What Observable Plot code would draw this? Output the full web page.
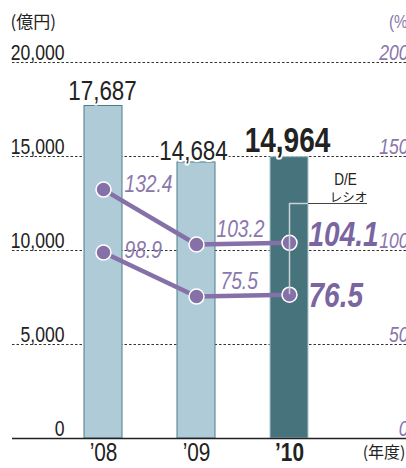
<!DOCTYPE html>
<html><head><meta charset="utf-8">
<script src="https://cdn.jsdelivr.net/npm/d3@7"></script>
<script src="https://cdn.jsdelivr.net/npm/@observablehq/plot@0.6"></script>
<style>body{margin:0;background:#fff}</style>
</head><body><div id="chart"></div>
<script>
const years = ["’08", "’09", "’10"];
const debt = [17687, 14684, 14964];           // 億円
const deRatioUpper = [132.4, 103.2, 104.1];    // %
const deRatioLower = [98.9, 75.5, 76.5];       // %
const yTicks = [0, 5000, 10000, 15000, 20000];
const pctTicks = [0, 50, 100, 150, 200];
const deLabelLevel = 125; // % level of the "D/E レシオ" callout line

const K = 100; // 200% <-> 20,000億円
const font = "'Liberation Sans', Arial, sans-serif";
const cjk = "'Noto Sans CJK JP', sans-serif";
const purple = "#8571a8";
const last = years[years.length - 1];

const bars = years.map((y, i) => ({year: y, value: debt[i], latest: y === last}));
const pts = [
  ...years.map((y, i) => ({year: y, s: "upper", v: deRatioUpper[i]})),
  ...years.map((y, i) => ({year: y, s: "lower", v: deRatioLower[i]}))
];

const upOff = [[21, 2], [20, -7], [19, 3]];
const loOff = [[21, 5], [24, -8], [19, 12]];
const ptLabels = [];
years.forEach((y, i) => {
  const isLast = y === last;
  [[deRatioUpper, upOff], [deRatioLower, loOff]].forEach(([arr, off]) => {
    ptLabels.push(Plot.text([{year: y, v: arr[i]}], {
      x: "year", y: d => d.v * K, text: d => d.v.toFixed(1),
      textAnchor: "start", lineAnchor: "bottom", dx: off[i][0], dy: off[i][1],
      fill: isLast ? "#7a65a0" : "#8a77ad", fontStyle: "italic", fontWeight: isLast ? "bold" : "normal",
      fontSize: isLast ? 35 : 24, fontFamily: font
    }));
  });
});

const barLabelOff = [[-1, -6], [-3, -2], [-2, -5]];
const barLabels = years.map((y, i) => Plot.text([bars[i]], {
  x: "year", y: "value", text: d => d3.format(",")(d.value),
  lineAnchor: "bottom", dx: barLabelOff[i][0], dy: barLabelOff[i][1],
  fill: "#222", stroke: "white", strokeWidth: 4, paintOrder: "stroke",
  fontWeight: bars[i].latest ? "bold" : "normal",
  fontSize: bars[i].latest ? 35 : 28, fontFamily: font
}));

const chart = Plot.plot({
  width: 406, height: 468,
  marginLeft: 12, marginRight: 0, marginTop: 62, marginBottom: 30,
  x: {type: "band", domain: years, paddingInner: 0.594, paddingOuter: 0.904, align: 0.42, axis: null},
  y: {domain: [0, 20000], axis: null},
  marks: [
    Plot.ruleY(yTicks.filter(d => d > 0), {stroke: "#333", strokeWidth: 1, strokeDasharray: "2.5,2"}),
    Plot.barY(bars, {x: "year", y: "value",
      fill: d => d.latest ? "#46737c" : "#afcbd7",
      stroke: d => d.latest ? "#a9c6d0" : "#4d7d89", strokeWidth: 1}),
    Plot.ruleY([0], {stroke: "#222", strokeWidth: 1.6}),
    Plot.line(pts, {x: "year", y: d => d.v * K, z: "s", stroke: purple, strokeWidth: 4.5}),
    Plot.dot(pts, {x: "year", y: d => d.v * K, r: 7.5, fill: purple, stroke: "white", strokeWidth: 1.5}),
    // D/E callout
    Plot.ruleX([last], {x: d => d, y1: deRatioLower[2] * K, y2: deLabelLevel * K, stroke: "#c9d3d6", strokeWidth: 1.5}),
    Plot.ruleY([deLabelLevel * K], {x1: () => last, x2: () => last, insetLeft: 19, stroke: "#c9d3d6", strokeWidth: 1.5}),
    Plot.ruleY([deLabelLevel * K], {x1: () => last, x2: () => last, insetLeft: 38, insetRight: -59, stroke: "#444", strokeWidth: 1.2}),
    Plot.text(["D/E"], {x: () => last, y: deLabelLevel * K, text: d => d, dx: 56, dy: -19, lineAnchor: "bottom", fontSize: 17, fill: "#222", fontFamily: font}),
    Plot.text(["レシオ"], {x: () => last, y: deLabelLevel * K, text: d => d, dx: 59, dy: -1.5, lineAnchor: "bottom", fontSize: 12.5, fill: "#222", fontFamily: cjk}),
    ...barLabels,
    ...ptLabels,
    // left axis labels
    Plot.text(yTicks, {y: d => d, text: d => d3.format(",")(d), frameAnchor: "left", dx: 52, dy: -3,
      textAnchor: "end", lineAnchor: "bottom", fontSize: 22, fill: "#222", fontFamily: font}),
    // right axis labels
    Plot.text(pctTicks, {y: d => d * K, text: d => String(d), frameAnchor: "right", dx: 2, dy: -3,
      textAnchor: "end", lineAnchor: "bottom", fontSize: 22, fill: "#8a77ad", fontStyle: "italic", fontFamily: font}),
    Plot.text(["(億円)"], {frameAnchor: "top-left", text: d => d, dx: -2, dy: -35, textAnchor: "start", lineAnchor: "bottom", fontSize: 17, fill: "#222", fontFamily: cjk}),
    Plot.text(["(%)"], {frameAnchor: "top-right", text: d => d, dx: 6, dy: -35, textAnchor: "end", lineAnchor: "bottom", fontSize: 19, fill: "#8a77ad", fontFamily: font}),
    // x labels
    Plot.text(years.filter(y => y !== last), {x: d => d, text: d => d, frameAnchor: "bottom", lineAnchor: "top", dy: 4, fontSize: 26, fill: "#222", fontFamily: font}),
    Plot.text([last], {x: d => d, text: d => d, frameAnchor: "bottom", lineAnchor: "top", dy: 4, fontSize: 26, fontWeight: "bold", fill: "#222", fontFamily: font}),
    Plot.text(["(年度)"], {frameAnchor: "bottom-right", text: d => d, dx: -1, dy: 8, textAnchor: "end", lineAnchor: "top", fontSize: 16, fill: "#222", fontFamily: cjk})
  ]
});
// condensed lettering like the original: narrow the Latin labels horizontally around their anchor
chart.querySelectorAll("text").forEach(t => {
  if (/[\u3000-\u9fff\u30a0-\u30ff]/.test(t.textContent)) return;
  const tr = t.getAttribute("transform") || "";
  t.setAttribute("transform", (tr + " scale(0.8,1)").trim());
});
document.getElementById("chart").append(chart);
</script></body></html>
